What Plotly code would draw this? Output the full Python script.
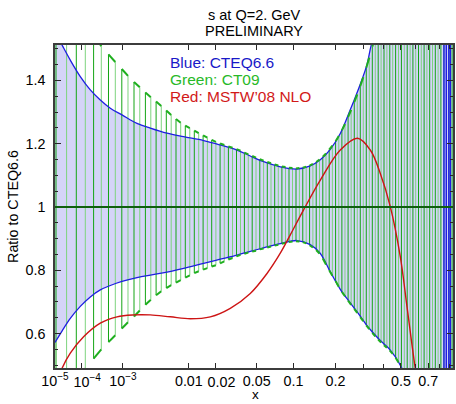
import plotly.graph_objects as go

# Horizontal axis is drawn on an x**0.2 scale
POWER = 0.2

# CTEQ6.6 uncertainty band (ratio to the CTEQ6.6 central fit)
cteq_x = [1.0e-5, 2.063e-5, 4.333e-5, 9.34e-5, 1.818e-4, 3.272e-4, 5.535e-4, 9.615e-4,
          1.804e-3, 2.969e-3, 5.21e-3, 8.615e-3, 0.014865, 0.022481, 0.032966, 0.04382,
          0.057365, 0.078931, 0.10653, 0.13359, 0.1574, 0.18448, 0.21507, 0.24958,
          0.28856, 0.31732, 0.33689, 0.38105, 0.4354, 0.49569, 0.63637, 0.80753, 0.93393]
cteq_hi = [1.553, 1.512, 1.464, 1.412, 1.370, 1.338, 1.312, 1.291, 1.264, 1.249, 1.233,
           1.222, 1.210, 1.196, 1.180, 1.161, 1.143, 1.127, 1.120, 1.130, 1.149, 1.182,
           1.232, 1.307, 1.388, 1.450, 1.512, 1.60, 1.70, 1.80, 2.00, 2.30, 2.60]
cteq_lo = [0.572, 0.608, 0.648, 0.686, 0.716, 0.738, 0.752, 0.765, 0.777, 0.785, 0.794,
           0.806, 0.822, 0.835, 0.848, 0.860, 0.871, 0.884, 0.894, 0.881, 0.853, 0.795,
           0.740, 0.697, 0.655, 0.625, 0.609, 0.578, 0.548, 0.500, 0.300, 0.100, 0.000]
# x where the CTEQ6.6 ratio curves flip sign and cross the whole frame
cteq_flip_x = [0.8427, 0.8652, 0.8906, 0.906]

# CT09 band, sampled point by point
ct09_x = [1.116e-5, 3.155e-5, 6.967e-5, 1.318e-4, 2.225e-4, 3.458e-4, 5.053e-4, 7.062e-4,
          9.529e-4, 1.248e-3, 1.600e-3, 2.011e-3, 2.485e-3, 3.022e-3, 3.635e-3, 4.329e-3,
          5.095e-3, 5.947e-3, 6.887e-3, 7.919e-3, 9.047e-3, 0.010268, 0.011620, 0.013078,
          0.014675, 0.016382, 0.018246, 0.020230, 0.022379, 0.024707, 0.027172, 0.029816,
          0.032604, 0.035573, 0.038700, 0.042022, 0.045578, 0.049284, 0.053198, 0.057365,
          0.061700, 0.066250, 0.071077, 0.076040, 0.081294, 0.086820, 0.092481, 0.098424,
          0.10468, 0.11105, 0.11771, 0.12474, 0.13205, 0.13948, 0.14730, 0.15540,
          0.16385, 0.17239, 0.18131, 0.19055, 0.20018, 0.21024, 0.22034, 0.23082,
          0.24168, 0.25295, 0.26465, 0.27640, 0.28856, 0.30111, 0.31414, 0.32768,
          0.34162, 0.35599, 0.37037, 0.38519, 0.40048, 0.41622, 0.43250, 0.44933,
          0.46666, 0.48444, 0.50287, 0.52182, 0.54123, 0.56126, 0.58116, 0.60163,
          0.62269, 0.64427, 0.66653, 0.68939, 0.71285, 0.73697, 0.76173, 0.78714,
          0.81324, 0.84002, 0.86755, 0.89574, 0.92451, 0.95411]
ct09_hi = [1.753, 1.689, 1.635, 1.587, 1.545, 1.508, 1.482, 1.458, 1.436, 1.414, 1.395,
           1.378, 1.362, 1.347, 1.333, 1.319, 1.305, 1.291, 1.278, 1.266, 1.257, 1.249,
           1.241, 1.233, 1.226, 1.219, 1.212, 1.206, 1.201, 1.196, 1.191, 1.187, 1.183,
           1.178, 1.172, 1.166, 1.161, 1.156, 1.151, 1.146, 1.142, 1.138, 1.134, 1.131,
           1.128, 1.126, 1.124, 1.123, 1.122, 1.123, 1.124, 1.127, 1.131, 1.136, 1.142,
           1.150, 1.159, 1.169, 1.181, 1.194, 1.208, 1.224, 1.242, 1.262, 1.284, 1.307,
           1.331, 1.356, 1.382, 1.410, 1.440, 1.472, 1.506, 1.54, 1.58, 1.62, 1.66, 1.70,
           1.74, 1.78, 1.82, 1.86, 1.90, 1.94, 1.98, 2.02, 2.06, 2.10, 2.14, 2.18, 2.22,
           2.26, 2.30, 2.34, 2.38, 2.42, 2.46, 2.50, 2.54, 2.58, 2.62, 2.66]
ct09_lo = [0.385, 0.423, 0.458, 0.490, 0.521, 0.550, 0.573, 0.595, 0.616, 0.636, 0.654,
           0.673, 0.691, 0.707, 0.721, 0.734, 0.744, 0.753, 0.761, 0.769, 0.777, 0.784,
           0.791, 0.797, 0.802, 0.807, 0.812, 0.816, 0.822, 0.828, 0.834, 0.839, 0.844,
           0.849, 0.852, 0.856, 0.859, 0.862, 0.866, 0.869, 0.872, 0.875, 0.878, 0.881,
           0.884, 0.887, 0.889, 0.891, 0.892, 0.891, 0.889, 0.885, 0.879, 0.872, 0.864,
           0.853, 0.837, 0.818, 0.800, 0.783, 0.766, 0.748, 0.732, 0.718, 0.704, 0.691,
           0.678, 0.665, 0.652, 0.639, 0.626, 0.614, 0.602, 0.591, 0.581, 0.572, 0.563,
           0.555, 0.546, 0.536, 0.524, 0.509, 0.492, 0.470, 0.450, 0.430, 0.410, 0.390,
           0.370, 0.350, 0.330, 0.310, 0.290, 0.270, 0.250, 0.230, 0.210, 0.190, 0.170,
           0.150, 0.130, 0.110]

# MSTW'08 NLO central fit (ratio to CTEQ6.6)
mstw_x = [1.0e-5, 2.063e-5, 4.333e-5, 1.175e-4, 3.272e-4, 7.65e-4, 1.575e-3, 2.969e-3,
          5.782e-3, 0.010412, 0.017623, 0.028365, 0.04382, 0.061332, 0.078931, 0.094651,
          0.11932, 0.1574, 0.21507, 0.27761, 0.33228, 0.38105, 0.4354, 0.49569, 0.5398,
          0.59846, 0.63637]
mstw_y = [0.43, 0.49, 0.538, 0.590, 0.633, 0.653, 0.659, 0.659, 0.653, 0.647, 0.653,
          0.680, 0.727, 0.790, 0.854, 0.912, 0.991, 1.085, 1.180, 1.217, 1.180, 1.106,
          1.001, 0.843, 0.685, 0.49, 0.40]

# Axis ticks; the crowded labels sit on a second axis whose labels are nudged right
x_tick_vals = [1e-5, 1e-3, 0.01, 0.05, 0.1, 0.2, 0.5, 0.7]
x_tick_text = ["10<sup>\u22125</sup>", "10<sup>\u22123</sup>", "0.01", "0.05", "0.1",
               "0.2", "0.5", "0.7"]
x_nudged_vals = [1e-4, 0.02]
x_nudged_text = ["10<sup>\u22124</sup>", "0.02"]
x_minor_vals = [0.3, 0.4, 0.6, 0.8, 0.9]
y_tick_vals = [0.6, 0.8, 1.0, 1.2, 1.4]
y_tick_text = ["0.6", "0.8", "1", "1.2", "1.4"]
x_limits = [1e-5, 0.934]
y_limits = [0.4913, 1.5118]

FONT = "Liberation Sans, Arial, sans-serif"
BLUE = "rgb(30,30,225)"
LAVENDER = "rgb(212,212,248)"
GREEN = "rgb(30,175,30)"
GREEN_DARK = "rgb(20,165,20)"
GREEN_LIGHT = "rgb(125,212,125)"
RED = "rgb(205,20,20)"
TICK_FONT = dict(family=FONT, size=14.3, color="black")


def sx(v):
    return v ** POWER


fig = go.Figure()

# CTEQ6.6 band fill
fig.add_trace(go.Scatter(x=[sx(v) for v in cteq_x], y=cteq_lo, mode="lines",
                         line=dict(width=0, shape="spline"), hoverinfo="skip"))
fig.add_trace(go.Scatter(x=[sx(v) for v in cteq_x], y=cteq_hi, mode="lines",
                         line=dict(width=0, shape="spline"), fill="tonexty",
                         fillcolor=LAVENDER, hoverinfo="skip"))

# CT09 band: narrow outlined strips between consecutive sample pairs
cx = [sx(v) for v in ct09_x]
dark_x, dark_y, light_x, light_y, edge_x, edge_y = [], [], [], [], [], []
for i in range(0, len(cx) - 1, 2):
    j = i + 1
    dark_x += [cx[i], cx[i], None]
    dark_y += [ct09_lo[i], ct09_hi[i], None]
    light_x += [cx[j], cx[j], None]
    light_y += [ct09_lo[j], ct09_hi[j], None]
    edge_x += [cx[i], cx[j], None, cx[i], cx[j], None]
    edge_y += [ct09_hi[i], ct09_hi[j], None, ct09_lo[i], ct09_lo[j], None]

fig.add_trace(go.Scatter(x=light_x, y=light_y, mode="lines",
                         line=dict(color=GREEN_LIGHT, width=1), hoverinfo="skip"))
fig.add_trace(go.Scatter(x=dark_x, y=dark_y, mode="lines",
                         line=dict(color=GREEN_DARK, width=1), hoverinfo="skip"))

# CTEQ6.6 band edges
for band in (cteq_lo, cteq_hi):
    fig.add_trace(go.Scatter(x=[sx(v) for v in cteq_x], y=band, mode="lines",
                             line=dict(color=BLUE, width=1.3, shape="spline"),
                             hoverinfo="skip"))
flip_x, flip_y = [], []
for v in cteq_flip_x:
    flip_x += [sx(v), sx(v), None]
    flip_y += [y_limits[0] - 0.2, y_limits[1] + 0.2, None]
fig.add_trace(go.Scatter(x=flip_x, y=flip_y, mode="lines",
                         line=dict(color=BLUE, width=1.5), hoverinfo="skip"))

# CT09 band edges
fig.add_trace(go.Scatter(x=edge_x, y=edge_y, mode="lines",
                         line=dict(color=GREEN, width=2), hoverinfo="skip"))

# MSTW'08 NLO
fig.add_trace(go.Scatter(x=[sx(v) for v in mstw_x], y=mstw_y, mode="lines",
                         line=dict(color=RED, width=1.4, shape="spline"),
                         hoverinfo="skip"))

# empty trace that keeps the second label axis alive
fig.add_trace(go.Scatter(x=[], y=[], xaxis="x2", hoverinfo="skip"))

# reference line at ratio = 1
fig.add_shape(type="line", xref="paper", x0=0, x1=1, yref="y", y0=1, y1=1,
              line=dict(color="rgb(15,95,15)", width=2))

annotations = [
    dict(text="s at Q=2. GeV", x=0.5, y=1.093, font=dict(size=14.5)),
    dict(text="PRELIMINARY", x=0.5, y=1.043, font=dict(size=14.5)),
    dict(text="Blue: CTEQ6.6", x=0.283, y=0.945, xanchor="left",
         font=dict(size=15.5, color="rgb(25,25,200)")),
    dict(text="Green: CT09", x=0.283, y=0.893, xanchor="left",
         font=dict(size=15.5, color="rgb(40,185,40)")),
    dict(text="Red: MSTW\u201908 NLO", x=0.283, y=0.842, xanchor="left",
         font=dict(size=15.5, color="rgb(210,25,25)")),
    # horizontal axis title
    dict(text="x", x=0.505, y=-0.111, yanchor="bottom", font=dict(size=13.5)),
]
for a in annotations:
    a.setdefault("xanchor", "center")
    a.setdefault("yanchor", "middle")
    a.update(xref="paper", yref="paper", showarrow=False)
    a["font"].setdefault("color", "black")
    a["font"]["family"] = FONT

axis_common = dict(showline=True, linecolor="rgb(60,60,60)", linewidth=1.6,
                   mirror="ticks", ticks="inside", tickcolor="rgb(40,40,40)",
                   tickwidth=1, showgrid=False, zeroline=False, automargin=False,
                   tickfont=TICK_FONT)
x_range = [sx(x_limits[0]), sx(x_limits[1])]

fig.update_layout(
    width=456, height=404,
    margin=dict(l=55, r=3, t=45, b=36),
    paper_bgcolor="white", plot_bgcolor="white",
    showlegend=False,
    annotations=annotations,
    xaxis=dict(axis_common, range=x_range,
               tickmode="array", tickvals=[sx(v) for v in x_tick_vals + x_nudged_vals],
               ticktext=x_tick_text + ["", ""], ticklen=5, ticklabelstandoff=-1,
               tickangle=0,
               minor=dict(tickmode="array", tickvals=[sx(v) for v in x_minor_vals],
                          ticks="inside", ticklen=4, tickcolor="rgb(40,40,40)")),
    xaxis2=dict(overlaying="x", anchor="y", side="bottom", range=x_range,
                tickmode="array", tickvals=[sx(v) for v in x_nudged_vals],
                ticktext=x_nudged_text, ticks="", showline=False, showgrid=False,
                zeroline=False, automargin=False, tickangle=0, tickfont=TICK_FONT,
                ticklabelstandoff=4, ticklabelshift=6),
    yaxis=dict(axis_common, range=y_limits, tickmode="array", tickvals=y_tick_vals,
               ticktext=y_tick_text, ticklen=6, ticklabelstandoff=5,
               minor=dict(dtick=0.05, tick0=0, ticks="inside", ticklen=3,
                          tickcolor="rgb(40,40,40)"),
               title=dict(text="Ratio to CTEQ6.6",
                          font=dict(family=FONT, size=14.3, color="black"),
                          standoff=3)),
)

fig.write_html("out.html")
